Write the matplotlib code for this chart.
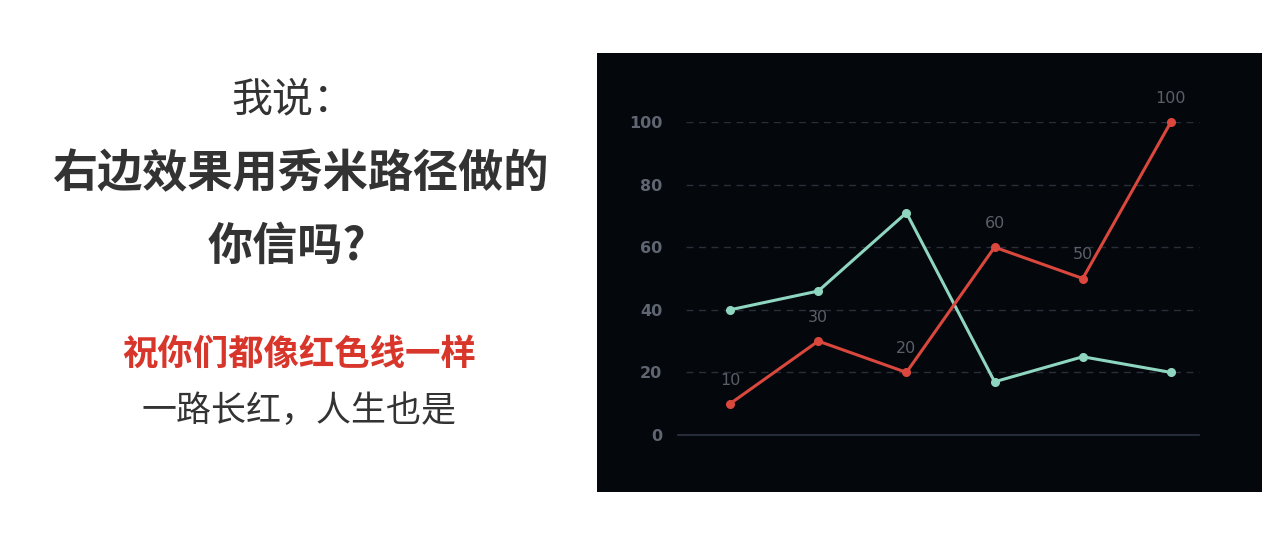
import matplotlib
matplotlib.use("Agg")
import matplotlib.pyplot as plt

plt.rcParams["font.family"] = ["Noto Sans CJK SC", "DejaVu Sans"]

# chart data
categories = ["1", "2", "3", "4", "5", "6"]
red_values = [10, 30, 20, 60, 50, 100]
green_values = [40, 46, 71, 17, 25, 20]
y_ticks = [0, 20, 40, 60, 80, 100]

W, H = 1280, 544
fig = plt.figure(figsize=(W / 100, H / 100), dpi=100)
fig.patch.set_facecolor("white")


def fx(px):
    return px / W


def fy(py):
    return 1 - py / H


# left side text
TXT = "#333333"
fig.text(fx(293), fy(100), "我说：", ha="center", va="center",
         fontsize=29.5, color=TXT)
fig.text(fx(300), fy(174), "右边效果用秀米路径做的", ha="center", va="center",
         fontsize=32.5, fontweight="bold", color=TXT)
fig.text(fx(287), fy(247), "你信吗?", ha="center", va="center",
         fontsize=32.5, fontweight="bold", color=TXT)
fig.text(fx(299), fy(354), "祝你们都像红色线一样", ha="center", va="center",
         fontsize=25.5, fontweight="bold", color="#d8352b")
fig.text(fx(299), fy(411), "一路长红，人生也是", ha="center", va="center",
         fontsize=25.2, color=TXT)

# dark panel behind the chart
bg = fig.add_axes([fx(597), fy(492), fx(1262) - fx(597), fy(53) - fy(492)], zorder=0)
bg.set_facecolor("#04070c")
bg.set_xticks([])
bg.set_yticks([])
for s in bg.spines.values():
    s.set_visible(False)

ax = fig.add_axes([fx(686), fy(435), fx(1215) - fx(686), fy(122) - fy(435)], zorder=1)
ax.set_facecolor("none")
x = list(range(len(categories)))

ax.plot(x, green_values, color="#8fd6c0", lw=2.2, marker="o", ms=5.5,
        zorder=3, clip_on=False)
ax.plot(x, red_values, color="#d9473d", lw=2.2, marker="o", ms=5.5,
        zorder=4, clip_on=False)
for xi, v in zip(x, red_values):
    ax.annotate(str(v), (xi, v), xytext=(0, 17), textcoords="offset points",
                ha="center", va="center", fontsize=11.5, color="#5b6068",
                family=["DejaVu Sans"], zorder=5)

ax.set_xlim(-0.5, len(categories) - 0.5)
ax.set_ylim(0, 100)
ax.set_yticks(y_ticks)
ax.set_yticklabels([str(t) for t in y_ticks], fontsize=11.5, color="#5f6672",
                   fontweight="bold", family=["DejaVu Sans"])
ax.set_xticks([])
ax.tick_params(axis="y", length=0, pad=17)
for s in ax.spines.values():
    s.set_visible(False)
for t in y_ticks[1:]:
    ax.axhline(t, xmin=0, xmax=0.97, color="#2a2f37", lw=1, ls=(0, (5, 4)), zorder=1)
ax.axhline(0, xmin=-0.015, xmax=0.97, color="#2c3342", lw=1.2, zorder=1, clip_on=False)

fig.savefig("out.png", dpi=100)
